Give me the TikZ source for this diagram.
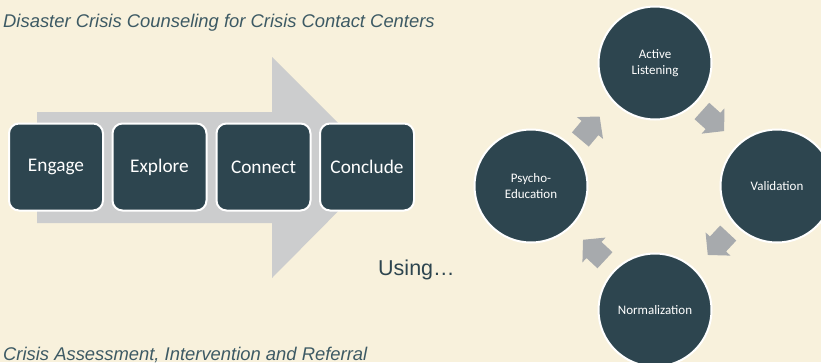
\documentclass[tikz,border=0pt]{standalone}
\usepackage{fontspec}
\setmainfont{Liberation Sans}
\newfontfamily\carl{Carlito}
\definecolor{bgc}{HTML}{F8F1DC}
\definecolor{darkc}{HTML}{2D454F}
\definecolor{titlec}{HTML}{3D5A64}
\definecolor{bigarrow}{HTML}{CCCDCE}
\definecolor{smallarrow}{HTML}{A7AAAD}
\tikzset{
  stage/.style={draw=white, line width=2pt, fill=darkc, rounded corners=10pt,
    minimum width=94pt, minimum height=87pt, text=white, font=\carl\fontsize{19.3}{22}\selectfont},
  skill/.style={circle, draw=white, line width=2pt, fill=darkc, minimum size=113pt,
    text=white, align=center, font=\carl\fontsize{13}{15.5}\selectfont, inner sep=0pt},
  caption/.style={anchor=base west, text=titlec, font=\itshape\fontsize{18.4}{21}\selectfont, inner sep=0pt},
  cyclearrow/.style={fill=smallarrow},
}
\begin{document}
\begin{tikzpicture}[x=1pt,y=-1pt]
\fill[bgc] (0,0) rectangle (821,362);
\useasboundingbox (0,0) rectangle (821,362);
\clip (0,0) rectangle (821,362);
% big arrow
\fill[bigarrow] (37,112) -- (272,112) -- (272,57) -- (382,167) -- (272,278) -- (272,223) -- (37,223) -- cycle;
% stages
\node[stage] (engage) at (56,167) {Engage};
\node[stage] (explore) at (159.5,167) {Explore};
\node[stage] (connect) at (263.5,167) {Connect};
\node[stage] (conclude) at (367,167) {Conclude};
% texts
\node[caption] (title) at (3,27) {Disaster Crisis Counseling for Crisis Contact Centers};
\node[caption] (bottom) at (3,360.5) {Crisis Assessment, Intervention and Referral};
\node[anchor=base west, text=darkc, font=\fontsize{21.5}{24}\selectfont, inner sep=0pt] (using) at (378,275) {Using…};
% circles
\node[skill] (listen) at (655,63) {Active\\Listening};
\node[skill] (valid) at (777,186) {Validation};
\node[skill] (norm) at (655,310) {Normalization};
\node[skill] (psycho) at (531,186) {Psycho-\\Education};
% cycle arrows
\foreach \cx/\cy/\ang in {713/121/-42, 718/244/-133, 594/250/137, 590/128/50}{
  \begin{scope}[shift={(\cx,\cy)}, rotate=\ang]
    \fill[cyclearrow] (-15pt,-11pt) -- (0pt,-11pt) -- (0pt,-17pt) -- (15pt,0pt) -- (0pt,17pt) -- (0pt,11pt) -- (-15pt,11pt) -- cycle;
  \end{scope}
}
\end{tikzpicture}
\end{document}
